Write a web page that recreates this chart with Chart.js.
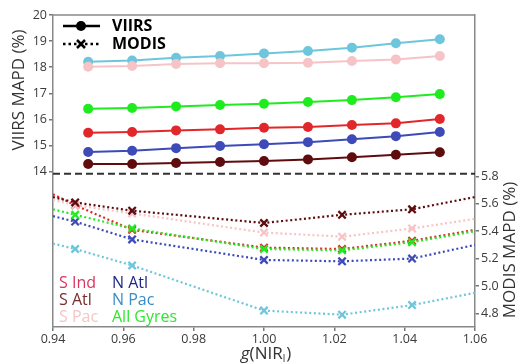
<!DOCTYPE html>
<html>
<head>
<meta charset="utf-8">
<script src="https://cdn.jsdelivr.net/npm/chart.js@4/dist/chart.umd.min.js"></script>
<style>
  html, body { margin: 0; padding: 0; background: #fff; }
  #wrap { position: relative; width: 520px; height: 364px; }
</style>
</head>
<body>
<div id="wrap"><canvas id="c" width="520" height="364"></canvas></div>
<script>
// ---------- DATA ----------
const gViirs = [0.95, 0.9625, 0.975, 0.9875, 1.0, 1.0125, 1.025, 1.0375, 1.05];
const viirsSInd = [15.49, 15.52, 15.58, 15.62, 15.68, 15.71, 15.79, 15.85, 16.02];
const viirsSAtl = [14.29, 14.29, 14.33, 14.37, 14.41, 14.47, 14.55, 14.65, 14.74];
const viirsSPac = [18.02, 18.05, 18.12, 18.15, 18.15, 18.17, 18.24, 18.30, 18.43];
const viirsNAtl = [14.75, 14.80, 14.90, 14.98, 15.05, 15.13, 15.24, 15.36, 15.52];
const viirsNPac = [18.21, 18.26, 18.36, 18.43, 18.53, 18.62, 18.75, 18.92, 19.07];
const viirsAll  = [16.41, 16.44, 16.50, 16.55, 16.60, 16.67, 16.74, 16.85, 16.97];

// MODIS: first and last entries are the extension of the dotted line to the frame edges (no marker)
const gModis = [0.94, 0.9463, 0.9625, 1.0, 1.0222, 1.0421, 1.06];
const modisSInd = [5.67, 5.59, 5.41, 5.28, 5.27, 5.33, 5.41];
const modisSAtl = [5.65, 5.61, 5.55, 5.46, 5.52, 5.56, 5.65];
const modisSPac = [5.63, 5.59, 5.53, 5.39, 5.36, 5.42, 5.49];
const modisNAtl = [5.51, 5.47, 5.34, 5.19, 5.18, 5.20, 5.30];
const modisNPac = [5.31, 5.27, 5.15, 4.82, 4.79, 4.86, 4.95];
const modisAll  = [5.56, 5.52, 5.42, 5.27, 5.26, 5.32, 5.40];

const xTicks = [0.94, 0.96, 0.98, 1.00, 1.02, 1.04, 1.06];
const viirsTicks = [14, 15, 16, 17, 18, 19, 20];
const modisTicks = [4.8, 5.0, 5.2, 5.4, 5.6, 5.8];
const separatorModis = 5.82;

const regionNames = ['S Ind', 'S Atl', 'S Pac', 'N Atl', 'N Pac', 'All Gyres'];

// ---------- STYLE ----------
const lineColors = {
  'S Ind': '#e2272a', 'S Atl': '#5e0c0e', 'S Pac': '#f6c4c6',
  'N Atl': '#3d4ab8', 'N Pac': '#6ec6dc', 'All Gyres': '#1fec1f'
};
const textColors = {
  'S Ind': '#d93560', 'S Atl': '#7a2c2c', 'S Pac': '#f4c6c6',
  'N Atl': '#1e2785', 'N Pac': '#3a8cc6', 'All Gyres': '#2ee82e'
};
const FONT = '"Open Sans", "DejaVu Sans", sans-serif';

function pts(xs, ys) { return xs.map((x, i) => ({ x: x, y: ys[i] })); }

const viirsSeries = { 'S Ind': viirsSInd, 'S Atl': viirsSAtl, 'S Pac': viirsSPac, 'N Atl': viirsNAtl, 'N Pac': viirsNPac, 'All Gyres': viirsAll };
const modisSeries = { 'S Ind': modisSInd, 'S Atl': modisSAtl, 'S Pac': modisSPac, 'N Atl': modisNAtl, 'N Pac': modisNPac, 'All Gyres': modisAll };
const modisOrder = { 'S Ind': 5, 'S Atl': 1, 'S Pac': 4, 'N Atl': 3, 'N Pac': 2, 'All Gyres': 0 };

const datasets = [];
regionNames.forEach(n => {
  datasets.push({
    label: 'VIIRS ' + n,
    data: pts(gViirs, viirsSeries[n]),
    yAxisID: 'yV',
    borderColor: lineColors[n],
    backgroundColor: lineColors[n],
    borderWidth: 2,
    pointRadius: 5,
    pointHoverRadius: 5,
    pointBorderWidth: 0,
    tension: 0,
    order: 10
  });
});
regionNames.forEach(n => {
  const radii = gModis.map((x, i) => (i === 0 || i === gModis.length - 1) ? 0 : 5.2);
  datasets.push({
    label: 'MODIS ' + n,
    data: pts(gModis, modisSeries[n]),
    yAxisID: 'yM',
    borderColor: lineColors[n],
    backgroundColor: lineColors[n] + '55',
    borderWidth: 2.2,
    borderDash: [2, 2.6],
    pointStyle: 'crossRot',
    pointRadius: radii,
    pointHoverRadius: radii,
    pointBorderWidth: 2.3,
    tension: 0,
    order: 20 + modisOrder[n]
  });
});

const decor = {
  id: 'decor',
  afterDraw(chart) {
    const ctx = chart.ctx;
    const a = chart.chartArea;
    const yM = chart.scales.yM;
    ctx.save();
    // frame top
    ctx.strokeStyle = '#888';
    ctx.lineWidth = 1.5;
    ctx.beginPath();
    ctx.moveTo(a.left, a.top); ctx.lineTo(a.right, a.top);
    ctx.stroke();
    // separator dashed line
    const ys = yM.getPixelForValue(separatorModis);
    ctx.strokeStyle = '#333';
    ctx.lineWidth = 2;
    ctx.setLineDash([7, 4]);
    ctx.beginPath();
    ctx.moveTo(a.left, ys); ctx.lineTo(a.right, ys);
    ctx.stroke();
    ctx.setLineDash([]);

    // axis titles
    ctx.fillStyle = '#333';
    ctx.font = '17px ' + FONT;
    ctx.textAlign = 'center';
    ctx.textBaseline = 'middle';
    ctx.save();
    ctx.translate(19, 90);
    ctx.rotate(-Math.PI / 2);
    ctx.fillText('VIIRS MAPD (%)', 0, 0);
    ctx.restore();
    ctx.save();
    ctx.translate(510, 250);
    ctx.rotate(-Math.PI / 2);
    ctx.fillText('MODIS MAPD (%)', 0, 0);
    ctx.restore();

    // x title g(NIR_l)
    ctx.textAlign = 'left';
    ctx.textBaseline = 'alphabetic';
    const parts = [
      { t: 'g', f: 'italic 17px ' + FONT, dy: 0 },
      { t: '(NIR', f: '17px ' + FONT, dy: 0 },
      { t: 'l', f: '10px ' + FONT, dy: 3 },
      { t: ')', f: '17px ' + FONT, dy: 0 }
    ];
    let w = 0;
    parts.forEach(p => { ctx.font = p.f; w += ctx.measureText(p.t).width + (p.t === ')' ? 1 : 0); });
    let xx = 266 - w / 2;
    const yb = 359;
    parts.forEach(p => {
      ctx.font = p.f;
      if (p.t === ')') xx += 1;
      ctx.fillText(p.t, xx, yb + p.dy);
      xx += ctx.measureText(p.t).width;
    });

    // top-left legend
    ctx.strokeStyle = '#000';
    ctx.fillStyle = '#000';
    ctx.lineWidth = 2.5;
    ctx.beginPath(); ctx.moveTo(63, 26); ctx.lineTo(100, 26); ctx.stroke();
    ctx.beginPath(); ctx.arc(81, 26, 5, 0, Math.PI * 2); ctx.fill();
    ctx.setLineDash([2.5, 3]);
    ctx.beginPath(); ctx.moveTo(63, 44); ctx.lineTo(100, 44); ctx.stroke();
    ctx.setLineDash([]);
    ctx.lineWidth = 2.5;
    ctx.beginPath();
    ctx.moveTo(77, 40); ctx.lineTo(85, 48);
    ctx.moveTo(85, 40); ctx.lineTo(77, 48);
    ctx.stroke();
    ctx.font = 'bold 16px ' + FONT;
    ctx.textBaseline = 'middle';
    ctx.fillText('VIIRS', 112, 26);
    ctx.fillText('MODIS', 112, 44);

    // region legend (bottom-left)
    ctx.font = '16px ' + FONT;
    const col1 = ['S Ind', 'S Atl', 'S Pac'];
    const col2 = ['N Atl', 'N Pac', 'All Gyres'];
    const rows = [283, 300, 317];
    col1.forEach((n, i) => { ctx.fillStyle = textColors[n]; ctx.fillText(n, 59, rows[i]); });
    col2.forEach((n, i) => { ctx.fillStyle = textColors[n]; ctx.fillText(n, 112, rows[i]); });
    ctx.restore();
  }
};

const tickFont = { family: FONT, size: 12.5 };
new Chart(document.getElementById('c'), {
  type: 'line',
  data: { datasets: datasets },
  options: {
    responsive: false,
    animation: false,
    devicePixelRatio: 1,
    layout: { padding: { top: 15, left: 0, right: 0, bottom: 0 } },
    plugins: { legend: { display: false }, tooltip: { enabled: false } },
    scales: {
      x: {
        type: 'linear', min: 0.94, max: 1.06,
        afterBuildTicks: s => { s.ticks = xTicks.map(v => ({ value: v })); },
        afterFit: s => { s.height = 37; },
        ticks: { font: tickFont, color: '#3a3a3a', padding: 1, maxRotation: 0, callback: v => Number(v).toFixed(2) },
        grid: { drawOnChartArea: false, tickLength: 4, color: '#777', lineWidth: 1.5 },
        border: { color: '#888', width: 1.5 }
      },
      yV: {
        type: 'linear', position: 'left', min: 8.05, max: 20,
        afterBuildTicks: s => { s.ticks = viirsTicks.map(v => ({ value: v })); },
        afterFit: s => { s.width = 53; },
        ticks: { font: tickFont, color: '#3a3a3a', padding: 2, callback: v => String(v) },
        grid: { drawOnChartArea: false, tickLength: 4, color: '#777', lineWidth: 1.5 },
        border: { color: '#888', width: 1.5 }
      },
      yM: {
        type: 'linear', position: 'right', min: 4.70, max: 6.98,
        afterBuildTicks: s => { s.ticks = modisTicks.map(v => ({ value: v })); },
        afterFit: s => { s.width = 45; },
        ticks: { font: tickFont, color: '#3a3a3a', padding: 2, callback: v => Number(v).toFixed(1) },
        grid: { drawOnChartArea: false, tickLength: 4, color: '#777', lineWidth: 1.5 },
        border: { color: '#888', width: 1.5 }
      }
    }
  },
  plugins: [decor]
});
</script>
</body>
</html>
